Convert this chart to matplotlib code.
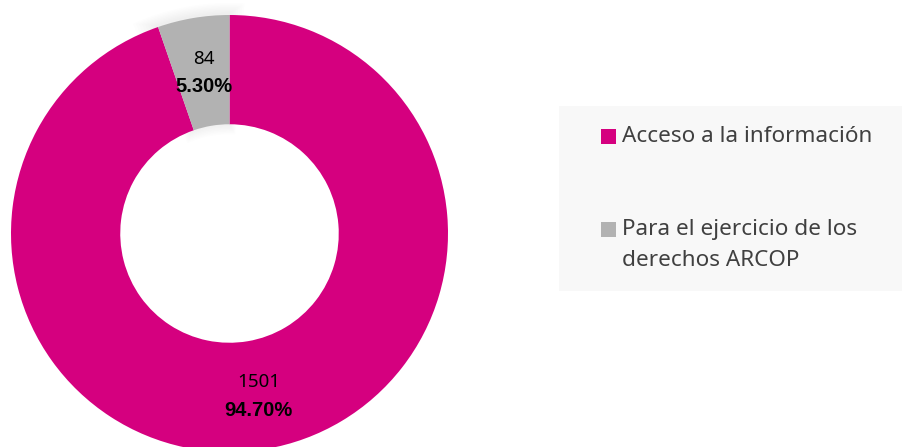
import numpy as np
import matplotlib.pyplot as plt
from matplotlib.patches import Rectangle, Wedge

# datos
categorias = ['Acceso a la información', 'Para el ejercicio de los\nderechos ARCOP']
valores = [1501, 84]
porcentajes = ['94.70%', '5.30%']
colores = ['#D5007F', '#B2B2B2']

plt.rcParams['font.family'] = ['Noto Sans', 'DejaVu Sans']

W, H = 902, 447
fig = plt.figure(figsize=(W / 100, H / 100), dpi=100)
ax = fig.add_axes([0, 0, 1, 1])

cx, cy = 229.5, H - 233.5
r = 218.5
ancho = 0.5 * r

# sombra suave detras del sector gris
total = sum(valores)
a1 = 90 + 360 * valores[1] / total
for k in range(1, 9):
    ax.add_patch(Wedge((cx - 1, cy + 1), r + k * 1.4, 90 - k * 0.5, a1 + k * 0.7,
                       width=ancho + k * 2.8, color='black', alpha=0.008,
                       lw=0, zorder=0))

wedges, _ = ax.pie(valores, colors=colores, startangle=90, counterclock=False,
                   radius=r, center=(cx, cy), frame=True,
                   wedgeprops=dict(width=ancho, linewidth=0))
ax.set_xlim(0, W)
ax.set_ylim(0, H)
ax.set_aspect('equal')
ax.axis('off')

# etiquetas de datos
for v, p, w in zip(valores, porcentajes, wedges):
    ang = np.deg2rad((w.theta1 + w.theta2) / 2)
    x = cx + 0.75 * r * np.cos(ang)
    y = cy + 0.75 * r * np.sin(ang)
    ax.text(x + 2, y + 13, str(v), ha='center', va='center', fontsize=13.5,
            color='black')
    ax.text(x + 2, y - 15, p, ha='center', va='center', fontsize=14.5,
            fontweight='bold', family='Liberation Sans', color='black')

# leyenda
ax.add_patch(Rectangle((559, H - 291), W - 559, 185, color='#F8F8F8', lw=0, zorder=0))
ys = [H - 136.5, H - 229]
paso = 31
for cat, col, y in zip(categorias, colores, ys):
    ax.add_patch(Rectangle((601, y - 7.5), 15, 15, color=col, lw=0))
    for i, linea in enumerate(cat.split('\n')):
        ax.text(622, y - i * paso, linea, ha='left', va='center',
                fontsize=16.2, color='#404040')

fig.savefig('out.png', dpi=100)
